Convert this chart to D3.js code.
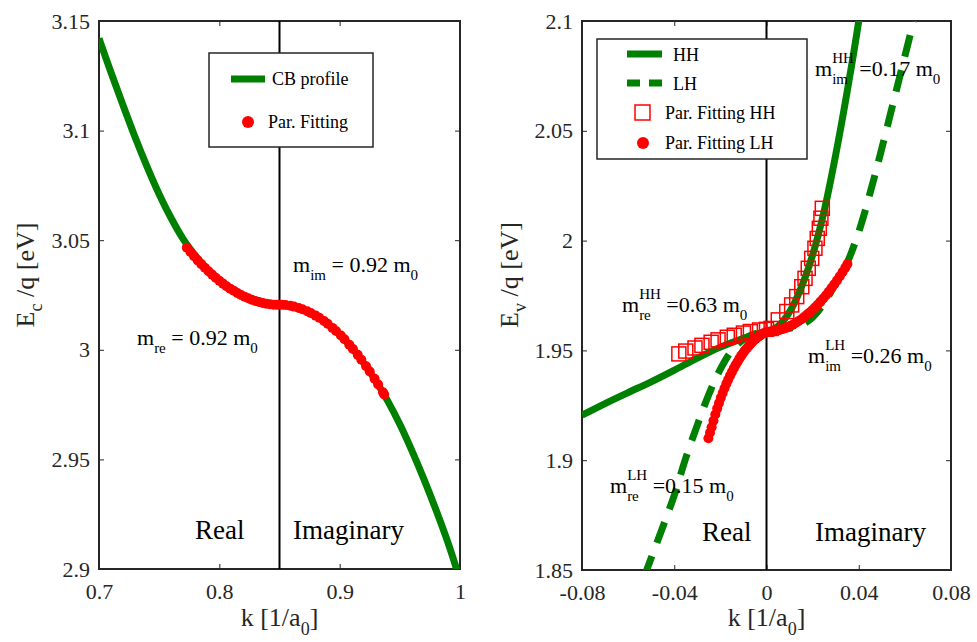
<!DOCTYPE html>
<html>
<head>
<meta charset="utf-8">
<script src="https://cdn.jsdelivr.net/npm/d3@7"></script>
<style>
  body { margin: 0; background: #fff; }
  svg text { font-family: "Liberation Serif", "Times New Roman", Times, serif !important; white-space: pre; }
</style>
</head>
<body>
<svg id="chart" width="977" height="642"></svg>
<script>
// ---------- Left panel: conduction band profile ----------
const cbK = [0.70, 0.71, 0.72, 0.73, 0.74, 0.75, 0.76, 0.77, 0.78, 0.79, 0.80,
             0.81, 0.82, 0.83, 0.84, 0.85, 0.86, 0.87, 0.88, 0.89, 0.90,
             0.91, 0.92, 0.93, 0.94, 0.95, 0.96, 0.97, 0.98, 0.99, 1.00];
const cbE = [3.142, 3.1265, 3.1115, 3.097, 3.0835, 3.071, 3.060, 3.0505, 3.043, 3.0365, 3.0315,
             3.0275, 3.0245, 3.0222, 3.0209, 3.0205, 3.0200, 3.0184, 3.0156, 3.0119, 3.0070,
             3.0010, 2.9940, 2.9858, 2.9766, 2.966, 2.954, 2.941, 2.927, 2.912, 2.895];

// parabolic fit markers (real and imaginary branch)
const cbFitK = [0.773, 0.776, 0.779, 0.782, 0.785, 0.788, 0.791, 0.794, 0.797, 0.800,
                0.803, 0.806, 0.809, 0.812, 0.815, 0.818, 0.821, 0.824, 0.827, 0.830,
                0.833, 0.836, 0.839, 0.842, 0.845, 0.848,
                0.852, 0.855, 0.859, 0.862, 0.866, 0.869, 0.873, 0.876, 0.880, 0.883,
                0.887, 0.890, 0.894, 0.897, 0.901, 0.904, 0.908, 0.911, 0.915, 0.918,
                0.922, 0.925, 0.929, 0.932, 0.936, 0.937];
const cbFitE = [3.0466, 3.0446, 3.0427, 3.0408, 3.0391, 3.0374, 3.0358, 3.0343, 3.0329, 3.0315,
                3.0302, 3.0290, 3.0279, 3.0269, 3.0259, 3.0250, 3.0242, 3.0235, 3.0228, 3.0223,
                3.0218, 3.0214, 3.0210, 3.0208, 3.0206, 3.0205,
                3.0205, 3.0204, 3.0201, 3.0197, 3.0191, 3.0185, 3.0176, 3.0168, 3.0156, 3.0146,
                3.0131, 3.0119, 3.0100, 3.0086, 3.0065, 3.0048, 3.0023, 3.0004, 2.9977, 2.9955,
                2.9925, 2.9901, 2.9868, 2.9842, 2.9806, 2.9796];

const leftXTicks = [0.7, 0.8, 0.9, 1];
const leftXTickLabels = ["0.7", "0.8", "0.9", "1"];
const leftYTicks = [2.9, 2.95, 3, 3.05, 3.1, 3.15];
const leftYTickLabels = ["2.9", "2.95", "3", "3.05", "3.1", "3.15"];

// ---------- Right panel: valence bands (heavy / light hole) ----------
const hhK = [-0.08, -0.07, -0.06, -0.05, -0.04, -0.03, -0.02, -0.01, -0.005, 0,
             0.005, 0.01, 0.015, 0.02, 0.025, 0.03, 0.035, 0.04, 0.042];
const hhE = [1.9205, 1.9258, 1.9308, 1.9357, 1.9410, 1.9465, 1.9515, 1.9555, 1.9573, 1.9585,
             1.9610, 1.9675, 1.9785, 1.9935, 2.0135, 2.0390, 2.0680, 2.1000, 2.1150];

const lhK = [-0.053, -0.050, -0.045, -0.040, -0.035, -0.030, -0.025, -0.020, -0.015, -0.010, -0.005, 0,
             0.005, 0.010, 0.015, 0.020, 0.025, 0.030, 0.035, 0.040, 0.045, 0.050, 0.055, 0.060, 0.065];
const lhE = [1.847, 1.8555, 1.8695, 1.884, 1.901, 1.916, 1.930, 1.9415, 1.950, 1.955, 1.9575, 1.9585,
             1.9590, 1.9600, 1.9615, 1.9650, 1.9715, 1.9805, 1.9900, 2.0040, 2.0220, 2.0420, 2.0630, 2.0840, 2.1050];

const hhFitK = [-0.038, -0.035, -0.031, -0.028, -0.024, -0.021, -0.017, -0.014, -0.010, -0.007, -0.003,
                0.000, 0.002, 0.0051, 0.0088, 0.0109, 0.0131, 0.0153, 0.0167, 0.0181, 0.0196,
                0.0210, 0.0220, 0.0229, 0.0236, 0.0242];
const hhFitE = [1.9484, 1.9497, 1.9511, 1.9523, 1.9537, 1.9548, 1.9560, 1.9569, 1.9579, 1.9586, 1.9593,
                1.9596, 1.9600, 1.9639, 1.9677, 1.9707, 1.9745, 1.9790, 1.9828, 1.9874, 1.9919,
                1.9965, 2.0010, 2.0056, 2.0102, 2.0147];

const lhFitK = [-0.0252, -0.0245, -0.0238, -0.0230, -0.0222, -0.0214, -0.0206, -0.0198, -0.0190, -0.0182,
                -0.0174, -0.0166, -0.0158, -0.0150, -0.0142, -0.0134, -0.0126, -0.0118, -0.0110, -0.0102,
                -0.0094, -0.0086, -0.0078, -0.0070, -0.0062, -0.0054, -0.0046, -0.0038, -0.0030, -0.0022,
                -0.0014, -0.0006,
                0.0006, 0.0018, 0.0030, 0.0042, 0.0054, 0.0066, 0.0078, 0.0090, 0.0102, 0.0114,
                0.0126, 0.0138, 0.0150, 0.0162, 0.0174, 0.0186, 0.0198, 0.0210, 0.0222, 0.0234,
                0.0246, 0.0258, 0.0270, 0.0282, 0.0294, 0.0306, 0.0318, 0.0330, 0.0342, 0.0351];
const lhFitE = [1.9100, 1.9125, 1.9150, 1.9180, 1.9208, 1.9235, 1.9260, 1.9284, 1.9306, 1.9328,
                1.9348, 1.9367, 1.9385, 1.9402, 1.9418, 1.9433, 1.9447, 1.9462, 1.9475, 1.9487,
                1.9499, 1.9509, 1.9519, 1.9528, 1.9537, 1.9546, 1.9553, 1.9560, 1.9566, 1.9572,
                1.9577, 1.9581,
                1.9585, 1.9586, 1.9587, 1.9589, 1.9592, 1.9596, 1.9600, 1.9605, 1.9611, 1.9617,
                1.9625, 1.9633, 1.9641, 1.9651, 1.9661, 1.9671, 1.9683, 1.9695, 1.9708, 1.9722,
                1.9736, 1.9751, 1.9767, 1.9784, 1.9801, 1.9819, 1.9838, 1.9857, 1.9877, 1.9893];

const rightXTicks = [-0.08, -0.04, 0, 0.04, 0.08];
const rightXTickLabels = ["-0.08", "-0.04", "0", "0.04", "0.08"];
const rightYTicks = [1.85, 1.9, 1.95, 2, 2.05, 2.1];
const rightYTickLabels = ["1.85", "1.9", "1.95", "2", "2.05", "2.1"];

// ---------- styles ----------
const GREEN = "#008000";
const RED = "#ff0000";
const AXIS = "#262626";
const LW = 7;
const SERIF = "Liberation Serif, Times New Roman, serif";

const svg = d3.select("#chart");
const defs = svg.append("defs");

function zip(a, b) { return a.map((v, i) => [v, b[i]]); }

function makePanel(o) {
  const x = d3.scaleLinear().domain(o.xDomain).range(o.xRange);
  const y = d3.scaleLinear().domain(o.yDomain).range(o.yRange);
  const x0 = o.xRange[0], x1 = o.xRange[1], yTop = o.yRange[1], yBot = o.yRange[0];

  defs.append("clipPath").attr("id", o.id).append("rect")
    .attr("x", x0).attr("y", yTop).attr("width", x1 - x0).attr("height", yBot - yTop);

  const g = svg.append("g");
  const styleAxis = sel => {
    sel.select(".domain").remove();
    sel.attr("font-family", SERIF).attr("font-size", 22).attr("color", AXIS);
    sel.selectAll(".tick line").attr("stroke-width", 1);
  };

  g.append("g").attr("transform", `translate(0,${yBot})`)
    .call(d3.axisBottom(x).tickValues(o.xTicks).tickFormat((d, i) => o.xLabels[i])
      .tickSizeInner(-5).tickSizeOuter(0).tickPadding(14))
    .call(styleAxis);
  g.append("g").attr("transform", `translate(0,${yTop})`)
    .call(d3.axisTop(x).tickValues(o.xTicks).tickFormat(() => "")
      .tickSizeInner(-5).tickSizeOuter(0))
    .call(styleAxis);
  g.append("g").attr("transform", `translate(${x0},0)`)
    .call(d3.axisLeft(y).tickValues(o.yTicks).tickFormat((d, i) => o.yLabels[i])
      .tickSizeInner(-5).tickSizeOuter(0).tickPadding(9))
    .call(styleAxis);
  g.append("g").attr("transform", `translate(${x1},0)`)
    .call(d3.axisRight(y).tickValues(o.yTicks).tickFormat(() => "")
      .tickSizeInner(-5).tickSizeOuter(0))
    .call(styleAxis);

  g.append("rect").attr("x", x0).attr("y", yTop)
    .attr("width", x1 - x0).attr("height", yBot - yTop)
    .attr("fill", "none").attr("stroke", AXIS).attr("stroke-width", 2);

  // x title: k [1/a0]
  const xt = g.append("text").attr("x", (x0 + x1) / 2).attr("y", 626)
    .attr("text-anchor", "middle").attr("font-size", 26).attr("fill", AXIS);
  xt.append("tspan").text("k [1/a");
  xt.append("tspan").attr("dy", 9).attr("font-size", 18).text("0");
  xt.append("tspan").attr("dy", -9).text("]");

  // y title: E_c /q [eV]
  const yt = g.append("text")
    .attr("transform", `translate(${o.yTitleX},275) rotate(-90)`)
    .attr("text-anchor", "middle").attr("font-size", 26).attr("fill", AXIS);
  yt.append("tspan").text("E");
  yt.append("tspan").attr("dy", 8).attr("font-size", 18).text(o.yTitleSub);
  yt.append("tspan").attr("dy", -8).text(" /q [eV]");

  const plot = svg.append("g").attr("clip-path", `url(#${o.id})`);
  return { x, y, plot, g };
}

function richMass(parent, x, y, sup, sub, value) {
  const g = parent.append("g").attr("fill", "#000");
  const m = g.append("text").attr("x", x).attr("y", y).attr("font-size", 22).text("m");
  let cx = x + m.node().getComputedTextLength();
  let w = 0;
  if (sup) {
    const s = g.append("text").attr("x", cx).attr("y", y - 13).attr("font-size", 15).text(sup);
    w = Math.max(w, s.node().getComputedTextLength());
  }
  if (sub) {
    const s = g.append("text").attr("x", cx).attr("y", y + 8).attr("font-size", 15).text(sub);
    w = Math.max(w, s.node().getComputedTextLength());
  }
  cx += w;
  const v = g.append("text").attr("x", cx).attr("y", y).attr("font-size", 22).text(value);
  cx += v.node().getComputedTextLength();
  g.append("text").attr("x", cx).attr("y", y + 8).attr("font-size", 15).text("0");
}

function regionLabel(parent, x, y, s) {
  parent.append("text").attr("x", x).attr("y", y).attr("font-size", 27)
    .attr("fill", "#000").text(s);
}

// ================= Left panel =================
const L = makePanel({
  id: "clipL", xDomain: [0.7, 1], xRange: [99, 460], yDomain: [2.9, 3.15], yRange: [569, 21],
  xTicks: leftXTicks, xLabels: leftXTickLabels, yTicks: leftYTicks, yLabels: leftYTickLabels,
  yTitleX: 34, yTitleSub: "c"
});

const lineL = d3.line().x(d => L.x(d[0])).y(d => L.y(d[1])).curve(d3.curveCatmullRom);
L.plot.append("path").datum(zip(cbK, cbE)).attr("d", lineL)
  .attr("fill", "none").attr("stroke", GREEN).attr("stroke-width", LW);
L.plot.append("line").attr("x1", L.x(0.85)).attr("x2", L.x(0.85))
  .attr("y1", L.y(3.15)).attr("y2", L.y(2.9)).attr("stroke", "#000").attr("stroke-width", 2);
L.plot.selectAll("circle.fit").data(zip(cbFitK, cbFitE)).join("circle")
  .attr("class", "fit").attr("cx", d => L.x(d[0])).attr("cy", d => L.y(d[1]))
  .attr("r", 5).attr("fill", RED);

richMass(svg, 293, 272, null, "im", "\u00a0= 0.92 m");
richMass(svg, 137, 345, null, "re", "\u00a0= 0.92 m");
regionLabel(svg, 195, 539, "Real");
regionLabel(svg, 293, 539, "Imaginary");

// legend (left)
{
  const lg = svg.append("g");
  lg.append("rect").attr("x", 209).attr("y", 53).attr("width", 164).attr("height", 94)
    .attr("fill", "#fff").attr("stroke", AXIS).attr("stroke-width", 1.5);
  lg.append("line").attr("x1", 231).attr("x2", 265).attr("y1", 79).attr("y2", 79)
    .attr("stroke", GREEN).attr("stroke-width", LW);
  lg.append("text").attr("x", 272).attr("y", 85).attr("font-size", 18).text("CB profile");
  lg.append("circle").attr("cx", 248).attr("cy", 122).attr("r", 6).attr("fill", RED);
  lg.append("text").attr("x", 268).attr("y", 128).attr("font-size", 18).text("Par. Fitting");
}

// ================= Right panel =================
const R = makePanel({
  id: "clipR", xDomain: [-0.08, 0.08], xRange: [582, 951], yDomain: [1.85, 2.1], yRange: [570, 21],
  xTicks: rightXTicks, xLabels: rightXTickLabels, yTicks: rightYTicks, yLabels: rightYTickLabels,
  yTitleX: 518, yTitleSub: "v"
});

const lineR = d3.line().x(d => R.x(d[0])).y(d => R.y(d[1])).curve(d3.curveCatmullRom);
R.plot.append("path").datum(zip(hhK, hhE)).attr("d", lineR)
  .attr("fill", "none").attr("stroke", GREEN).attr("stroke-width", LW);
R.plot.append("path").datum(zip(lhK, lhE)).attr("d", lineR)
  .attr("fill", "none").attr("stroke", GREEN).attr("stroke-width", LW)
  .attr("stroke-dasharray", "22,14");
R.plot.append("line").attr("x1", R.x(0)).attr("x2", R.x(0))
  .attr("y1", R.y(2.1)).attr("y2", R.y(1.85)).attr("stroke", "#000").attr("stroke-width", 2);
R.plot.selectAll("rect.fit").data(zip(hhFitK, hhFitE)).join("rect")
  .attr("class", "fit").attr("x", d => R.x(d[0]) - 7).attr("y", d => R.y(d[1]) - 7)
  .attr("width", 14).attr("height", 14)
  .attr("fill", "none").attr("stroke", RED).attr("stroke-width", 1.5);
R.plot.selectAll("circle.fit").data(zip(lhFitK, lhFitE)).join("circle")
  .attr("class", "fit").attr("cx", d => R.x(d[0])).attr("cy", d => R.y(d[1]))
  .attr("r", 5).attr("fill", RED);

richMass(svg, 815, 76, "HH", "im", "\u00a0=0.17 m");
richMass(svg, 622, 312, "HH", "re", "\u00a0=0.63 m");
richMass(svg, 808, 363, "LH", "im", "\u00a0=0.26 m");
richMass(svg, 610, 493, "LH", "re", "\u00a0=0.15 m");
regionLabel(svg, 702, 541, "Real");
regionLabel(svg, 815, 541, "Imaginary");

// legend (right)
{
  const lg = svg.append("g");
  lg.append("rect").attr("x", 597).attr("y", 39).attr("width", 210).attr("height", 120)
    .attr("fill", "#fff").attr("stroke", AXIS).attr("stroke-width", 1.5);
  lg.append("line").attr("x1", 627).attr("x2", 662).attr("y1", 54).attr("y2", 54)
    .attr("stroke", GREEN).attr("stroke-width", LW);
  lg.append("text").attr("x", 673).attr("y", 61).attr("font-size", 18).text("HH");
  lg.append("line").attr("x1", 627).attr("x2", 662).attr("y1", 83).attr("y2", 83)
    .attr("stroke", GREEN).attr("stroke-width", LW).attr("stroke-dasharray", "13,9");
  lg.append("text").attr("x", 673).attr("y", 90).attr("font-size", 18).text("LH");
  lg.append("rect").attr("x", 635).attr("y", 105).attr("width", 15).attr("height", 15)
    .attr("fill", "none").attr("stroke", RED).attr("stroke-width", 1.5);
  lg.append("text").attr("x", 665).attr("y", 119).attr("font-size", 18).text("Par. Fitting HH");
  lg.append("circle").attr("cx", 643).attr("cy", 143).attr("r", 6).attr("fill", RED);
  lg.append("text").attr("x", 665).attr("y", 149).attr("font-size", 18).text("Par. Fitting LH");
}
</script>
</body>
</html>
